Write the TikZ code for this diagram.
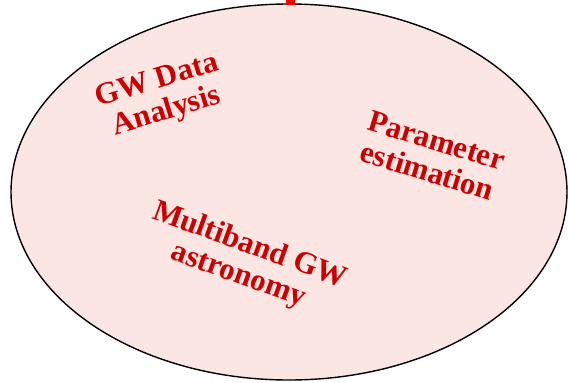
\documentclass[tikz,border=0pt]{standalone}
\usepackage{fontspec}
\setmainfont{Liberation Serif}
\definecolor{pinkfill}{RGB}{251,230,228}
\definecolor{labelred}{RGB}{204,0,0}
\begin{document}
\begin{tikzpicture}[x=1pt,y=-1pt,
  lbl/.style={text=labelred,font=\bfseries\fontsize{31}{32}\selectfont,align=center,inner sep=0pt}]
\useasboundingbox (0,0) rectangle (568,383);
\draw[fill=pinkfill,line width=1.4pt] (289,192) ellipse [x radius=278, y radius=188];
\fill[red] (286,0) rectangle (295,5);
\node[lbl,rotate=17] (gwda) at (162,97) {GW Data\\Analysis};
\node[lbl,rotate=-17] (pe) at (432,156) {Parameter\\estimation};
\node[lbl,rotate=-20] (mb) at (244,261) {Multiband GW\\astronomy};
\end{tikzpicture}
\end{document}
